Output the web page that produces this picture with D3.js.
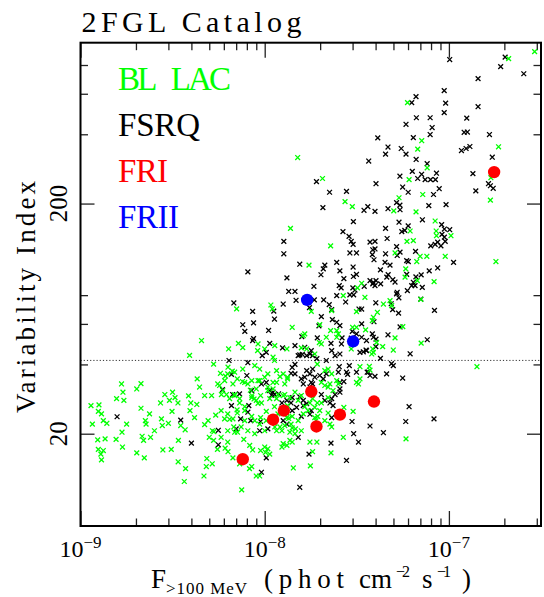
<!DOCTYPE html>
<html>
<head>
<meta charset="utf-8">
<script src="https://cdn.jsdelivr.net/npm/d3@7"></script>
<style>
  body { margin: 0; background: #fff; }
  svg { display: block; font-family: "Liberation Serif", serif; }
</style>
</head>
<body>
<svg id="chart" width="544" height="597"></svg>
<script>
/* ---------------- DATA (flux in units of 1e-9 phot cm-2 s-1, variability index) ---------------- */
const FLUX_UNIT = 1e-9;

const blLac = [
  [15.1,317],[13.8,156],[211,853],[292,915],[59.6,549],[71.2,375],[67.7,345],[186,353],[76.2,286],[169,259],
  [60.8,254],[20.6,257],[27.3,204],[29.9,194],[53.6,212],[72.1,219],[168,207],[66.3,184],[50.2,186],[61.6,152],
  [84.2,168],[85.3,152],[85.6,145],[102.6,145],[59.2,137],[64.1,138],[22.8,131],[17.4,108],[31.9,86.0],[26.7,79.6],
  [23.1,68.5],[7.04,69.7],[10.8,72.5],[11.0,69.7],[17.9,68.0],[31.5,67.8],[14.1,58.0],[19.9,59.6],[22.8,56.1],[24.6,56.1],
  [25.1,54.3],[30.0,58.0],[31.5,58.0],[16.2,53.4],[16.5,54.3],[21.6,52.5],[24.6,52.5],[4.54,50.8],
  [51.0,122],[69.8,118],[66.9,112],[75.9,118],[95.5,118],[180,112],[58.3,104],[57.8,95.8],[33.6,90.1],[67.4,92.5],
  [83.1,91.6],[35.0,78.3],[70.4,76.7],[44.1,73.2],[47.9,75.7],[48.9,72.0],[40.9,67.4],[38.9,64.1],[38.4,62.0],[35.3,56.5],
  [56.2,58.4],[51.0,52.2],[70.7,49.5],[43.7,47.8],[38.6,46.7],[38.1,44.4],[49.9,46.2],[37.0,39.2],[37.3,37.8],[142,39.1],
  [19.8,49.8],[15.8,47.2],[16.9,46.7],[29.5,46.7],[38.9,45.1],[40.5,49.9],[11.1,43.0],[11.3,41.6],[32.9,39.1],[32.9,34.6],
  [31.5,33.4],[32.3,32.9],[22.1,38.2],[24.6,34.0],[22.6,32.9],[22.1,31.9],[20.3,33.4],[21.2,32.4],[12.6,36.4],[12.1,35.4],
  [13.3,35.2],[11.6,33.4],[10.0,35.2],[10.4,31.9],[9.39,34.0],[10.65,28.4],[9.6,27.2],[10.2,25.0],[11.3,26.2],[11.6,28.4],
  [12.85,29.6],[13.3,26.5],[13.5,23.3],[14.1,23.8],[13.2,24.6],[18.2,28.4],[19.3,27.2],[19.9,25.2],[19.4,23.8],[19.0,22.8],
  [22.1,24.6],[26.9,26.0],[30.2,25.0],[22.6,22.0],[58.5,19.0],[26.7,19.3],[22.9,16.5],[17.6,18.4],[19.2,18.4],[18.2,16.7],
  [14.3,14.2],[17.7,14.5],[9.39,13.1],[12.4,17.5],[12.6,18.1],[13.7,18.7],[14.1,18.4],[13.2,17.8],[10.0,17.5],[9.5,16.9],
  [10.4,17.2],[10.1,16.6],[10.65,16.3],[11.6,20.6],[12.1,21.4],[12.85,21.7],[13.7,20.3],[14.1,21.2],[14.7,21.0],[15.8,20.6],
  [10.2,22.8],[9.5,23.5],[9.39,22.0],
  [3.91,43.8],[6.37,46.7],[7.2,49.4],[7.6,47.3],[9.15,45.9],
  [1.14,26.5],[1.26,26.7],[1.25,25.0],[1.30,24.4],[1.16,22.0],[1.33,22.8],[1.39,22.2],[1.24,18.8],[1.36,19.0],[1.25,17.1],
  [1.33,16.9],[1.29,16.3],[1.30,15.4],[1.56,18.9],[1.69,17.5],[1.67,32.9],[1.70,30.3],[1.57,28.4],[1.72,27.9],[2.02,31.3],
  [2.13,33.0],[1.78,22.0],[1.68,20.3],[2.13,25.8],[2.37,24.4],[2.25,22.8],[2.27,22.0],[2.16,19.5],[2.40,19.3],[2.20,18.7],
  [2.02,16.5],[2.22,15.7],[2.52,20.6],[2.72,27.2],[2.87,29.6],[3.04,27.9],[3.16,30.3],[3.26,28.7],[3.38,27.2],[3.14,25.0],
  [2.75,23.2],[2.78,21.7],[3.0,22.2],[3.50,21.7],[3.70,20.8],[3.40,18.7],[2.80,17.0],[3.11,17.1],[3.39,15.1],[3.72,14.1],
  [3.66,12.4],[3.86,29.2],[3.97,27.2],[3.93,25.2],[4.16,23.5],[4.30,34.6],[4.43,31.9],[4.72,29.3],[4.28,26.8],[5.15,29.3],
  [5.42,24.1],[4.93,22.8],[4.72,21.9],[5.2,20.6],[5.3,20.4],[5.0,19.3],[5.28,18.7],[4.85,15.6],[4.82,14.4],[6.32,38.9],
  [6.67,37.4],[6.12,35.6],[5.92,30.8],[5.56,32.9],[5.82,29.6],[6.87,29.6],[7.31,27.2],[7.08,25.4],[6.06,23.2],[6.45,23.1],
  [6.1,17.3],[6.32,16.7],[6.72,15.7],[7.79,22.8],[7.7,18.9],[8.29,17.8],[8.6,17.0],[7.31,14.8],[8.27,14.1],[9.0,13.1],
  [7.5,11.4],[5.54,17.1],[5.19,14.8],[6.3,18.4],[6.79,21.4],[7.12,20.3],[8.1,32.9],[8.36,30.9],[9.0,31.3],[8.75,28.3],
  [9.2,27.1],[7.57,33.7],[8.53,29.3],[5.28,40.1],[5.75,36.6],[4.68,13.1],[8.5,14.4],
  [9.2,49.1],[10.0,46.7],[11.34,48.3],[13.2,46.7],[6.3,36.4],[6.87,37.0],[7.6,38.2],[8.83,39.5],[9.39,38.2],[10.4,36.4],
  [11.6,37.6],[13.3,34.6],[12.85,32.9],[11.1,33.4],[9.2,34.0],[8.5,34.0],[7.79,33.4],[7.1,34.6],[6.72,32.9],[6.06,34.0],
  [5.69,32.4],[6.2,29.6],[6.45,28.4],[6.87,29.3],[7.31,28.4],[7.79,26.2],[8.5,28.7],[9.0,27.9],[9.5,29.3],[10.4,30.8],
  [11.1,31.3],[11.8,29.6],[12.6,29.3],[13.7,28.7],[14.6,30.3],[15.8,29.3],[15.2,27.9],[16.5,26.2],[17.6,27.2],[18.7,26.0],
  [20.3,27.2],[22.1,28.7],[23.5,30.8],[25.1,32.9],[23.1,36.4],[21.2,37.6],[19.3,40.1],[18.7,44.4],[20.3,49.1],[5.8,25.2],
  [6.3,24.4],[6.72,23.2],[7.1,24.6],[7.79,25.2],[8.5,23.8],[8.83,22.8],[11.8,24.4],[13.2,23.5],[13.9,22.0],[15.2,22.8],
  [16.2,24.4],[17.2,25.2],[18.7,23.5],[21.2,22.8],[23.1,21.4],[14.6,20.0],[12.4,20.6],[11.34,21.4],[10.0,20.6],[8.83,20.0],
  [8.1,20.6],[7.45,21.4],[6.87,20.3],[6.3,20.6],[5.8,19.3]
];

const fsrq = [
  [101,845],[202,866],[191,787],[255,733],[144,698],[94.3,619],[66.3,583],[62.8,549],[96.0,546],[144,527],
  [94.3,497],[66.6,472],[79.1,472],[125,470],[58.5,442],[81.1,428],[121,408],[126,409],[166,399],[79.1,399],
  [64.1,387],[41.1,386],[46.7,352],[55.1,347],[117,340],[124,347],[130,354],[45.3,328],[58.5,328],[66.4,311],
  [172,318],[36.7,306],[76.2,298],[135,270],[54.2,263],[63.3,276],[71.1,268],[67.7,257],[74.3,254],[79.5,254],
  [84.5,254],[85.6,271],[19.1,249],[40.2,244],[56.1,236],[60.1,224],[164,244],[168,239],[174,233],[140,227],
  [88.6,232],[22.5,224],[27.8,226],[36.3,194],[34.6,187],[39.7,185],[52.0,202],[54.2,197],[77.8,196],[82.5,219],
  [96.5,198],[46.7,190],[54.3,188],[53.6,166],[60.1,160],[55.5,151],[57.6,153],[45.3,156],[46.2,141],[71.8,170],
  [91.3,162],[94.5,155],[101,154],[91.7,147],[94.5,143],[30.3,167],
  [20.7,192],[26.6,151],[28.7,144],[29.5,137],[30.2,133],[12.7,137],[12.7,121],[29.0,122],[31.5,122],[15.5,109],
  [21.2,108],[20.8,104],[20.2,98.1],[24.6,111],[25.6,102],[30.2,106],[8.1,101],[13.2,95.1],[26.9,94.4],[30.3,96.4],
  [31.5,98.4],[18.5,87.4],[25.4,88.0],[26.0,86.0],[30.1,86.0],[30.9,84.2],[13.5,83.0],[14.6,83.0],[24.6,79.6],[29.0,80.2],
  [30.4,80.2],[14.8,76.0],[18.6,76.3],[20.9,76.3],[27.5,74.7],[22.4,72.8],[23.1,69.3],[6.8,74.0],[12.6,73.2],[11.2,68.2],
  [8.6,68.0],[17.5,70.6],[20.3,64.5],[32.5,69.6],[11.3,63.0],[23.3,62.6],[24.6,61.0],[25.6,59.0],[8.7,60.6],[7.6,59.5],
  [7.8,55.7],[10.5,56.2],[19.7,58.8],[29.9,55.7],[31.5,54.3],[15.9,52.8],[8.7,51.8],[19.3,52.2],[26.3,52.2],[29.5,52.0],
  [37.3,136],[39.7,137],[38.6,126],[39.7,127],[38.4,120],[39.2,114],[52.0,130],[54.3,123],[52.4,119],[45.3,121],
  [45.0,111],[47.9,108],[65.9,124],[79.7,131],[84.2,133],[86.9,136],[90.5,131],[95.5,137],[59.0,113],[60.2,112],
  [106,111],[86.9,105],[42.5,103],[78.2,102],[46.8,98.2],[46.0,95.8],[49.6,93.4],[51.0,91.2],[59.0,98.5],[66.2,96.0],
  [70.7,98.0],[37.3,92.5],[38.9,91.0],[40.2,92.5],[38.6,89.5],[39.7,88.0],[42.6,89.5],[34.7,87.4],[64.1,91.0],[65.5,88.0],
  [62.8,88.0],[71.7,86.5],[59.5,83.7],[52.4,82.3],[52.0,81.0],[53.5,77.9],[70.4,76.9],[40.1,74.1],[48.6,73.4],[49.5,69.2],
  [33.6,69.6],[53.3,66.8],[83.5,68.7],[39.2,61.3],[33.6,60.0],[54.3,58.2],[38.4,54.3],[38.9,52.5],[40.2,51.5],[35.7,50.8],
  [33.6,52.5],[46.7,53.8],[76.3,51.2],[40.1,47.8],[35.5,46.2],[34.3,45.4],[61.6,44.5],[42.5,42.5],[48.8,40.3],[49.9,39.5],
  [36.0,37.0],[37.3,35.8],[39.7,35.5],[45.9,36.4],[56.1,34.9],
  [10.65,49.4],[12.5,47.2],[14.6,48.3],[15.2,43.7],[15.5,44.0],[16.0,44.2],[16.5,47.5],[22.9,49.4],[32.9,45.1],[35.7,45.9],
  [26.1,49.1],[25.6,44.4],[23.1,45.9],[24.1,43.7],[9.7,43.7],[10.2,45.1],[19.2,42.4],[21.6,41.6],[18.2,43.7],[17.6,44.4],
  [17.9,45.9],[16.9,43.7],
  [28.8,39.5],[31.5,37.0],[36.6,37.0],[27.8,37.0],[28.2,36.2],[25.6,33.4],[26.9,33.7],[25.1,37.0],[25.4,39.1],[19.9,35.8],
  [21.6,36.4],[20.8,34.6],[25.6,30.3],[24.1,29.6],[23.1,28.4],[16.9,37.6],[17.6,36.4],[18.2,38.2],[16.5,35.2],[15.8,34.6],
  [16.2,32.9],[17.6,31.9],[18.2,32.9],[18.7,35.2],[17.9,33.4],[14.1,38.8],[14.6,40.0],[13.9,36.6],[14.6,36.4],[9.6,32.9],
  [10.2,33.4],[10.65,30.8],[11.1,30.3],[11.3,29.6],[11.9,29.8],[10.9,29.4],[12.4,27.2],[13.2,27.9],[13.9,27.2],[14.1,28.7],
  [15.5,28.9],[14.9,26.0],[14.1,25.2],[15.8,23.8],[17.6,24.3],[17.9,25.2],[16.2,26.5],[16.9,27.0],[16.2,27.9],[20.3,29.6],
  [21.2,27.9],[22.6,27.2],[23.5,26.5],[23.1,23.5],[25.6,31.3],[29.8,22.6],[30.4,20.0],[32.3,18.4],[37.3,21.6],[44.1,20.2],
  [60.8,26.2],[58.3,22.6],[83.0,23.2],[22.9,18.2],[27.8,15.3],[17.4,16.3],[10.2,15.7],[9.6,13.6],[15.5,11.7],[15.2,19.3],
  [12.6,22.8],[13.2,22.0],[10.4,21.0],[9.39,20.6],[9.5,22.6],
  [6.4,41.6],[8.1,40.7],[6.6,36.2],[8.0,35.8],[5.9,31.1],[6.7,29.6],[7.3,29.8],[6.6,26.5],[8.2,26.5],[8.1,24.8],
  [7.4,23.2],[8.4,22.8],[5.6,20.7],[7.0,21.0],[1.58,23.7],[3.5,22.9],[4.0,18.2],[5.6,17.9],[8.6,50.8],[8.5,30.8]
];

const fri = [[176,274],[17.9,30.5],[12.7,25.2],[11.1,23.0],[19.1,21.5],[25.6,24.2],[39.2,27.6],[7.6,15.5]];
const frii = [[17.0,76.3],[30.2,50.4]];

const legendLabels = ["BL LAC", "FSRQ", "FRI", "FRII"];
const legendColors = ["#00ff00", "#000000", "#ff0000", "#0000ff"];
const legendWidths = [113, 82, 50, 61];

const xMajor = [1e-9, 1e-8, 1e-7];
const xMajorExp = ["\u22129", "\u22128", "\u22127"];
const yMajor = [20, 200];
const yMinor = [40, 60, 80, 400, 600, 800];
const variabilityThreshold = 41.64;

/* ---------------- SVG SETUP ---------------- */
const svg = d3.select("#chart");
const plotLeft = 80.5, plotRight = 541, plotTop = 42.7, plotBottom = 526;

const x = d3.scaleLog().domain([1e-9, 10 ** -6.5]).range([plotLeft, plotRight]);
const y = d3.scaleLog().domain([10 ** 0.9, 1000]).range([plotBottom, plotTop]);

const xMinor = [];
[1e-9, 1e-8, 1e-7].forEach(dec => {
  for (let k = 2; k <= 9; k++) if (dec * k <= 10 ** -6.5) xMinor.push(dec * k);
});

/* ---------------- TICKS ---------------- */
function tickGroup(axis, tx, ty) {
  const g = svg.append("g").attr("transform", `translate(${tx},${ty})`).call(axis);
  g.select(".domain").remove();
  g.selectAll("text").remove();
  g.selectAll("line").attr("stroke", "#222").attr("stroke-width", 1.3);
}
tickGroup(d3.axisBottom(x).tickValues(xMajor).tickSize(-15), 0, plotBottom);
tickGroup(d3.axisBottom(x).tickValues(xMinor).tickSize(-7.5), 0, plotBottom);
tickGroup(d3.axisTop(x).tickValues(xMajor).tickSize(-15), 0, plotTop);
tickGroup(d3.axisTop(x).tickValues(xMinor).tickSize(-7.5), 0, plotTop);
tickGroup(d3.axisLeft(y).tickValues(yMajor).tickSize(-14), plotLeft, 0);
tickGroup(d3.axisLeft(y).tickValues(yMinor).tickSize(-7.5), plotLeft, 0);
tickGroup(d3.axisRight(y).tickValues(yMajor).tickSize(-14), plotRight, 0);
tickGroup(d3.axisRight(y).tickValues(yMinor).tickSize(-7.5), plotRight, 0);

/* ---------------- THRESHOLD LINE ---------------- */
svg.append("line")
  .attr("x1", plotLeft).attr("x2", plotRight)
  .attr("y1", y(variabilityThreshold)).attr("y2", y(variabilityThreshold))
  .attr("stroke", "#333").attr("stroke-width", 1)
  .attr("stroke-dasharray", "1.2,2");

/* ---------------- POINTS ---------------- */
const crossPath = "M-2.4,-2.4L2.4,2.4M-2.4,2.4L2.4,-2.4";

function crosses(data, color) {
  svg.append("g").selectAll("path")
    .data(data)
    .enter()
    .append("path")
    .attr("d", crossPath)
    .attr("transform", d => `translate(${x(d[0] * FLUX_UNIT)},${y(d[1])})`)
    .attr("fill", "none")
    .attr("stroke", color)
    .attr("stroke-width", 1.3);
}
function dots(data, color) {
  svg.append("g").selectAll("circle")
    .data(data)
    .enter()
    .append("circle")
    .attr("cx", d => x(d[0] * FLUX_UNIT))
    .attr("cy", d => y(d[1]))
    .attr("r", 6.2)
    .attr("fill", color);
}
crosses(fsrq, legendColors[1]);
crosses(blLac, legendColors[0]);
dots(fri, legendColors[2]);
dots(frii, legendColors[3]);

/* ---------------- FRAME ---------------- */
svg.append("rect")
  .attr("x", plotLeft).attr("y", plotTop)
  .attr("width", plotRight - plotLeft).attr("height", plotBottom - plotTop)
  .attr("fill", "none").attr("stroke", "#000").attr("stroke-width", 2);

/* ---------------- TICK LABELS ---------------- */
xMajor.forEach((v, i) => {
  const t = svg.append("text")
    .attr("x", x(v)).attr("y", 557)
    .attr("text-anchor", "middle")
    .attr("font-size", 24);
  t.append("tspan").text("10");
  t.append("tspan").attr("dy", -9).attr("font-size", 17).text(xMajorExp[i]);
});

yMajor.forEach(v => {
  svg.append("text")
    .attr("transform", `translate(67,${y(v)}) rotate(-90)`)
    .attr("text-anchor", "middle")
    .attr("font-size", 25)
    .text(v);
});

/* ---------------- AXIS TITLES ---------------- */
svg.append("text")
  .attr("transform", "translate(35,297) rotate(-90)")
  .attr("text-anchor", "middle")
  .attr("font-size", 27)
  .attr("textLength", 232).attr("lengthAdjust", "spacing")
  .text("Variability Index");

const xTitle = [
  { s: "F", x: 151, y: 588, size: 27, w: 14 },
  { s: ">100 MeV", x: 166, y: 594, size: 17, w: 81 },
  { s: "(phot", x: 264, y: 588, size: 27, w: 80 },
  { s: "cm", x: 359, y: 588, size: 27, w: 33 },
  { s: "\u22122", x: 396, y: 577, size: 16, w: 14 },
  { s: "s", x: 422, y: 588, size: 27, w: 11 },
  { s: "\u22121", x: 437, y: 577, size: 16, w: 14 },
  { s: ")", x: 462, y: 588, size: 27, w: 9 }
];
xTitle.forEach(p => {
  svg.append("text")
    .attr("x", p.x).attr("y", p.y)
    .attr("font-size", p.size)
    .attr("textLength", p.w).attr("lengthAdjust", "spacing")
    .text(p.s);
});

/* ---------------- TITLE & LEGEND ---------------- */
svg.append("text")
  .attr("x", 81.5).attr("y", 31.7)
  .attr("font-size", 30)
  .attr("textLength", 220).attr("lengthAdjust", "spacing")
  .text("2FGL Catalog");

legendLabels.forEach((lab, i) => {
  svg.append("text")
    .attr("x", 118).attr("y", 90 + i * 46)
    .attr("font-size", 33)
    .attr("fill", legendColors[i])
    .attr("word-spacing", 12)
    .attr("textLength", legendWidths[i]).attr("lengthAdjust", "spacing")
    .text(lab);
});
</script>
</body>
</html>
